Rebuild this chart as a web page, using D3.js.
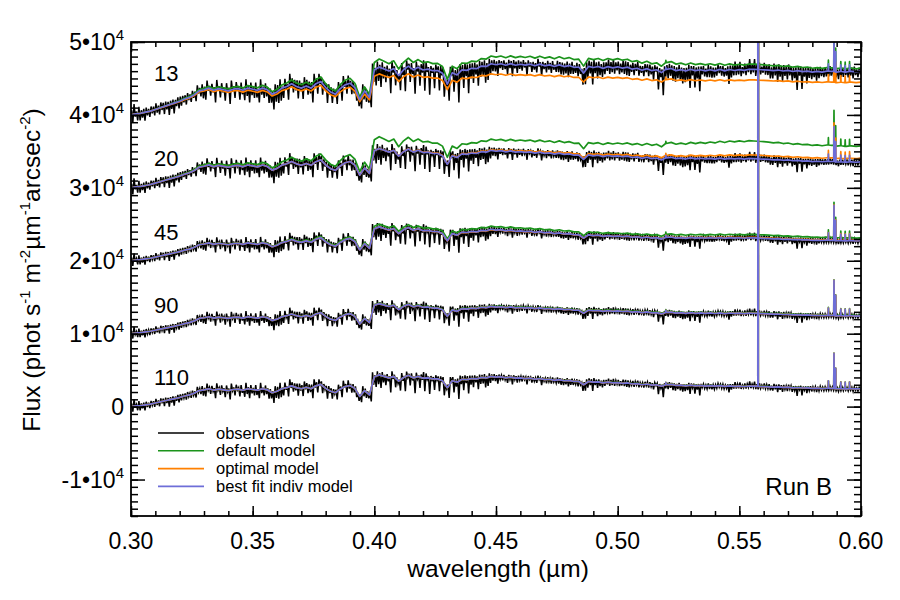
<!DOCTYPE html>
<html><head><meta charset="utf-8">
<script src="https://cdn.jsdelivr.net/npm/d3@7"></script>
<style>body{margin:0;background:#fff}text{font-family:"Liberation Sans",Arial,sans-serif}</style>
</head><body><svg id="c" width="900" height="600"></svg>
<script>
// ---- data (flux in units of 1000 phot s^-1 m^-2 um^-1 arcsec^-2 for the "110" spectrum) ----
const wlStart = 0.300, wlStep = 0.002;
const baseShape = [
0.0,0.1,0.15,0.25,0.35,0.5,0.65,0.8,0.95,1.1,
1.25,1.45,1.6,1.85,2.2,2.3,2.45,2.25,2.4,2.3,
2.2,2.35,2.4,2.25,2.45,2.35,2.25,2.45,2.3,1.9,
2.1,2.45,2.6,2.85,2.6,2.45,2.65,2.45,2.85,3.05,
2.5,2.1,1.9,2.4,2.75,2.9,2.5,1.4,2.2,1.6,
4.1,4.35,4.15,3.95,4.15,3.5,4.0,4.3,3.95,4.15,
3.9,3.95,3.8,3.8,3.55,2.6,3.55,3.35,3.75,3.7,
3.85,3.8,4.0,3.95,4.15,4.05,4.1,3.95,4.05,3.9,
3.95,3.85,3.9,3.75,3.85,3.7,3.75,3.6,3.7,3.55,
3.6,3.45,3.45,3.0,3.45,3.35,3.4,3.25,3.35,3.25,
3.3,3.2,3.25,3.1,3.15,3.0,3.1,2.95,3.0,2.8,
3.0,3.05,2.9,2.95,2.85,2.95,2.85,2.9,2.82,2.88,
2.8,2.88,2.78,2.85,2.78,2.82,2.76,2.82,2.8,2.78,
2.75,2.72,2.68,2.7,2.63,2.66,2.58,2.62,2.55,2.57,
2.5,2.53,2.48,2.52,2.5,2.45,2.47,2.43,2.46,2.42,2.45
];
const obsUp = [
1.2,0.9,0.6,0.3,0.2,0.25,0.2,0.3,0.25,0.3,
0.35,0.3,0.4,0.35,0.5,0.5,0.7,0.6,0.8,0.6,
0.7,0.8,0.6,0.7,0.8,0.6,0.7,0.8,0.6,0.5,
0.7,0.8,0.7,0.9,0.6,0.7,0.8,0.6,0.9,0.7,
0.6,0.7,0.5,0.6,0.8,0.7,0.6,0.4,0.6,0.5,
0.6,0.5,0.6,0.5,0.7,0.5,0.6,0.5,0.6,0.5,
0.5,0.6,0.4,0.5,0.6,0.4,0.5,0.4,0.5,0.6,
0.4,0.5,0.4,0.5,0.4,0.4,0.3,0.4,0.3,0.4,
0.3,0.4,0.3,0.3,0.4,0.3,0.3,0.4,0.3,0.3,
0.3,0.4,0.3,0.3,0.3,0.4,0.3,0.3,0.3,0.4,
0.3,0.3,0.4,0.3,0.3,0.3,0.3,0.4,0.3,0.3,
0.2,0.3,0.3,0.3,0.2,0.3,0.3,0.2,0.3,0.3,
0.2,0.3,0.3,0.2,0.3,0.3,0.2,0.3,0.3,0.3,
0.2,0.3,0.2,0.3,0.3,0.2,0.3,0.2,0.3,0.2,
0.3,0.2,0.3,0.2,0.3,0.3,0.2,0.3,0.2,0.3,0.2
];
const obsDown = [
0.7,0.6,0.4,0.3,0.2,0.3,0.2,0.3,0.4,0.3,
0.4,0.5,0.4,0.6,0.5,0.9,0.7,1.1,0.8,1.0,
1.2,0.8,1.0,0.9,1.3,0.8,1.1,0.9,1.2,1.4,
1.0,0.9,1.2,0.8,1.1,1.0,0.8,1.3,0.9,1.2,
1.4,1.0,0.9,1.1,0.8,1.0,1.2,0.8,1.0,0.9,
1.4,1.8,1.2,2.0,1.5,1.3,1.9,1.4,2.1,1.6,
1.8,2.2,1.5,1.7,2.0,1.4,1.6,2.3,1.5,1.9,
1.2,1.4,0.8,1.1,0.6,0.9,0.5,0.7,1.0,0.6,
0.5,0.8,0.6,0.5,0.9,0.5,0.6,0.4,0.7,0.5,
0.6,0.4,0.5,0.8,0.5,0.4,0.6,0.4,0.5,0.4,
0.5,0.4,0.6,0.4,0.5,0.4,0.5,0.6,1.3,1.5,
0.6,0.8,0.5,0.9,0.6,0.4,0.5,0.3,0.4,0.5,
0.3,0.4,0.3,0.5,0.3,0.4,0.3,0.3,0.4,0.3,
0.3,0.5,0.3,0.4,0.3,0.3,0.4,0.3,0.3,0.4,
0.3,0.4,0.3,0.3,0.3,0.4,0.3,0.3,0.4,0.3,0.3
];
// sky emission lines: [wavelength (um), height above continuum, same in every spectrum]
const emissionLines = [[0.5198,0.3],[0.5577,80],[0.5866,1.0],[0.5889,4.8],[0.5896,2.8],[0.5917,0.9],[0.5935,0.9],[0.5953,0.9]];
const panelLabels = ["13","20","45","90","110"];
const panelOffsets = [40000,30000,20000,10000,0];
const scaleKnots = [0.30,0.35,0.40,0.45,0.50,0.55,0.60];
const panelScale = [
  [1.5,1.5,1.5,1.7,2.0,2.2,2.45],
  [1.3,1.28,1.24,1.24,1.33,1.43,1.45],
  [1.0,1.0,1.07,1.04,1.03,1.12,1.12],
  [0.95,0.95,0.95,0.9,0.95,1.0,1.0],
  [1,1,1,1,1,1,1]
];
const greenRatio = [
  [1.0,1.1,1.17,1.15,1.17,1.12,1.07],
  [1.0,1.1,1.3,1.3,1.4,1.6,1.62],
  [1.0,1.02,1.08,1.1,1.12,1.15,1.15],
  [1.0,1.0,1.02,1.02,1.03,1.03,1.03],
  [1.0,1.0,1.0,1.0,1.01,1.01,1.01]
];
const orangeRatio = [
  [1.0,0.92,0.86,0.8,0.78,0.77,0.75],
  [1.0,1.0,1.0,1.02,1.05,1.12,1.14],
  [1.0,1.0,1.0,0.99,1.0,1.02,1.02],
  [1,1,1,1,1,1,1],
  [1,1,1,1,1,1,1]
];
const seriesNames = ["observations","default model","optimal model","best fit indiv model"];
const seriesColors = ["#000000","#1b931b","#ff8000","#6e6ed8"];
const xTickValues = [0.30,0.35,0.40,0.45,0.50,0.55,0.60];
const yTickValues = [-10000,0,10000,20000,30000,40000,50000];
const runLabel = "Run B";

// ---- layout ----
const svg = d3.select("#c");
const L = 131, R = 861, T = 42, B = 516;
const x = d3.scaleLinear().domain([0.30,0.60]).range([L,R]);
const y = d3.scaleLinear().domain([-15000,50000]).range([B,T]);

svg.append("defs").append("clipPath").attr("id","clip")
  .append("rect").attr("x",L).attr("y",T).attr("width",R-L).attr("height",B-T);

const wl = baseShape.map((_, i) => +(wlStart + i*wlStep).toFixed(4));
const nearest = lam => Math.max(0, Math.min(wl.length-1, Math.round((lam-wlStart)/wlStep)));

function modelPoints(p, ratio) {
  const s = d3.scaleLinear().domain(scaleKnots).range(panelScale[p]);
  const r = ratio ? d3.scaleLinear().domain(scaleKnots).range(ratio[p]) : (() => 1);
  const pts = wl.map((l, i) => [l, panelOffsets[p] + 1000*s(l)*r(l)*baseShape[i]]);
  emissionLines.forEach(([l, a]) => {
    const c = pts[nearest(l)][1];
    pts.push([l-0.0001, c], [l, c+1000*a], [l+0.0001, c]);
  });
  pts.sort((a,b) => a[0]-b[0]);
  return pts;
}
function obsPoints(p) {
  const s = d3.scaleLinear().domain(scaleKnots).range(panelScale[p]);
  const pts = [];
  const n = wl.length;
  wl.forEach((l, i) => {
    const sc = 1000*s(l), o = panelOffsets[p], b = baseShape[i];
    pts.push([l-0.00075, o + sc*(b+obsUp[i])]);
    pts.push([l-0.00025, o + sc*(b-0.6*obsDown[(i*7+3)%n])]);
    pts.push([l+0.00025, o + sc*(b+0.7*obsUp[(i*5+2)%n])]);
    pts.push([l+0.00075, o + sc*(b-obsDown[i])]);
  });
  return pts;
}
const line = d3.line().x(d => x(d[0])).y(d => y(d[1]));
const g = svg.append("g").attr("clip-path","url(#clip)");

panelOffsets.forEach((_, p) => {
  g.append("path").attr("d", line(obsPoints(p))).attr("fill","none")
    .attr("stroke",seriesColors[0]).attr("stroke-width",1.5);
});
[[greenRatio,1],[orangeRatio,2],[null,3]].forEach(([ratio, k]) => {
  panelOffsets.forEach((_, p) => {
    g.append("path").attr("d", line(modelPoints(p, ratio))).attr("fill","none")
      .attr("stroke",seriesColors[k]).attr("stroke-width",1.7).attr("stroke-linejoin","round");
  });
});

// ---- axes ----
const ax = svg.append("g");
function ticks(axisGen, tx, vals, len) {
  ax.append("g").attr("transform", tx)
    .call(axisGen.tickValues(vals).tickSize(len).tickFormat(""))
    .call(s => s.select(".domain").remove())
    .call(s => s.selectAll("line").attr("stroke","#000").attr("stroke-width",1.5));
}
const xMinor = d3.range(30,61).map(v => v/100);
const yMinor = d3.range(-15,51).map(v => v*1000);
ticks(d3.axisBottom(x), `translate(0,${B})`, xMinor, -5);
ticks(d3.axisBottom(x), `translate(0,${B})`, xTickValues, -10);
ticks(d3.axisTop(x), `translate(0,${T})`, xMinor, -5);
ticks(d3.axisTop(x), `translate(0,${T})`, xTickValues, -10);
ticks(d3.axisLeft(y), `translate(${L},0)`, yMinor, -7);
ticks(d3.axisLeft(y), `translate(${L},0)`, yTickValues, -14);
ticks(d3.axisRight(y), `translate(${R},0)`, yMinor, -7);
ticks(d3.axisRight(y), `translate(${R},0)`, yTickValues, -14);
svg.append("rect").attr("x",L).attr("y",T).attr("width",R-L).attr("height",B-T)
  .attr("fill","none").attr("stroke","#000").attr("stroke-width",1.8);

// x tick labels
svg.append("g").selectAll("text").data(xTickValues).join("text")
  .attr("x", d => x(d)).attr("y", 549).attr("text-anchor","middle")
  .attr("font-size", 23).text(d => d.toFixed(2));
// y tick labels
svg.append("g").selectAll("text").data(yTickValues).join("text")
  .attr("x", 124).attr("y", d => y(d) + 8).attr("text-anchor","end").attr("font-size", 23)
  .each(function(d) {
    const t = d3.select(this);
    if (d === 0) { t.text("0"); return; }
    t.append("tspan").text(`${d/10000}\u202210`);
    t.append("tspan").attr("dy",-10).attr("font-size",15).text("4");
  });

// axis titles
svg.append("text").attr("x", 498).attr("y", 577).attr("text-anchor","middle")
  .attr("font-size", 24.5).text("wavelength (\u00b5m)");
const yt = svg.append("text").attr("transform","translate(40,270) rotate(-90)")
  .attr("text-anchor","middle").attr("font-size", 24.5);
[["Flux (phot s",""],["-1","sup"],[" m",""],["-2","sup"],["\u00b5m",""],["-1","sup"],["arcsec",""],["-2","sup"],[")",""]]
  .forEach(([t, k], i, arr) => {
    const ts = yt.append("tspan").text(t);
    if (k === "sup") ts.attr("dy",-10).attr("font-size",15);
    else if (i > 0 && arr[i-1][1] === "sup") ts.attr("dy",10);
  });

// panel labels
const labelLift = [34, 22, 21, 21, 22];
svg.append("g").selectAll("text").data(panelLabels).join("text")
  .attr("x", 154).attr("y", (d,i) => y(panelOffsets[i]) - labelLift[i])
  .attr("font-size", 22).text(d => d);

// legend
const lg = svg.append("g");
seriesNames.forEach((n, i) => {
  const yy = 433 + i*17.8;
  lg.append("line").attr("x1",158).attr("x2",204).attr("y1",yy).attr("y2",yy)
    .attr("stroke",seriesColors[i]).attr("stroke-width",1.6);
  lg.append("text").attr("x",216).attr("y",yy+5.5).attr("font-size",16.5).text(n);
});
svg.append("text").attr("x", 832).attr("y", 495).attr("text-anchor","end")
  .attr("font-size", 24).text(runLabel);
</script></body></html>
